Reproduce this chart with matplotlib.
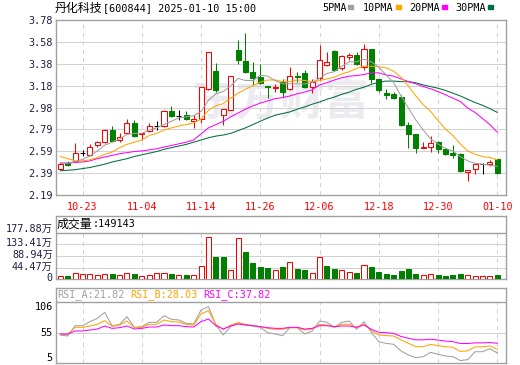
import numpy as np
import pandas as pd
import matplotlib
matplotlib.use("Agg")
import matplotlib.pyplot as plt
import matplotlib.transforms as mtransforms
from matplotlib.patches import Rectangle

W, H = 520, 365
MONO = ["DejaVu Sans Mono", "Noto Sans CJK SC"]
CJK = ["Noto Sans CJK SC", "DejaVu Sans"]
red = "#ff0000"
green = "#008000"
border = "#a0a0a0"
grid = "#d2d2d2"
navy = "#1e1e46"
c_ma5, c_ma10, c_ma20, c_ma30 = "#a0a0a0", "#ffa500", "#ff00ff", "#00703a"
LW = 0.75  # ~1 px

# ---------------- data ----------------
dates = pd.bdate_range("2024-10-18", "2025-01-10")
dates = dates[dates != pd.Timestamp("2025-01-01")]
day = list(dates.strftime("%m-%d"))
date_ticks = ["10-23", "11-04", "11-14", "11-26", "12-06", "12-18", "12-30", "01-10"]

opens = [2.43, 2.48, 2.50, 2.57, 2.55, 2.64, 2.67, 2.78, 2.69, 2.75,
         2.84, 2.74, 2.77, 2.82, 2.82, 2.95, 2.91, 2.92, 2.86, 2.88,
         3.15, 3.32, 2.92, 2.96, 3.51, 3.41, 3.31, 3.26, 3.18, 3.16,
         3.22, 3.15, 3.27, 3.30, 3.17, 3.25, 3.37, 3.50, 3.34, 3.44,
         3.46, 3.35, 3.52, 3.24, 3.12, 3.11, 3.08, 2.83, 2.74, 2.62,
         2.63, 2.67, 2.61, 2.57, 2.56, 2.40, 2.43, 2.47, 2.47, 2.52]
highs = [2.49, 2.50, 2.66, 2.60, 2.65, 2.68, 2.79, 2.82, 2.75, 2.88,
         2.87, 2.75, 2.84, 2.86, 2.96, 3.00, 2.96, 2.95, 2.92, 3.17,
         3.49, 3.39, 2.97, 3.27, 3.60, 3.66, 3.40, 3.38, 3.18, 3.20,
         3.24, 3.35, 3.31, 3.33, 3.24, 3.55, 3.49, 3.51, 3.46, 3.48,
         3.49, 3.56, 3.52, 3.24, 3.15, 3.13, 3.10, 2.85, 2.74, 2.67,
         2.73, 2.68, 2.62, 2.64, 2.57, 2.42, 2.47, 2.48, 2.51, 2.52]
lows = [2.42, 2.45, 2.49, 2.54, 2.54, 2.63, 2.66, 2.67, 2.67, 2.74,
        2.72, 2.69, 2.76, 2.78, 2.81, 2.90, 2.87, 2.87, 2.80, 2.84,
        3.14, 3.13, 2.83, 2.96, 3.38, 3.30, 3.19, 3.20, 3.07, 3.13,
        3.08, 3.14, 3.22, 3.16, 3.12, 3.23, 3.36, 3.32, 3.33, 3.42,
        3.37, 3.33, 3.21, 3.13, 3.06, 3.06, 2.82, 2.62, 2.57, 2.62,
        2.58, 2.57, 2.55, 2.53, 2.40, 2.32, 2.38, 2.38, 2.45, 2.38]
closes = [2.47, 2.46, 2.57, 2.57, 2.63, 2.67, 2.78, 2.68, 2.72, 2.84,
          2.73, 2.75, 2.82, 2.82, 2.95, 2.91, 2.91, 2.88, 2.88, 3.17,
          3.49, 3.14, 2.97, 3.27, 3.42, 3.31, 3.25, 3.21, 3.17, 3.17,
          3.13, 3.27, 3.26, 3.17, 3.22, 3.42, 3.40, 3.33, 3.45, 3.46,
          3.38, 3.52, 3.24, 3.14, 3.10, 3.07, 2.83, 2.74, 2.62, 2.63,
          2.66, 2.61, 2.56, 2.55, 2.41, 2.42, 2.47, 2.47, 2.49, 2.39]
prev_close = 2.44

ma5 = [2.478, 2.48, 2.493, 2.514, 2.545, 2.59, 2.644, 2.67, 2.70, 2.74,
       2.75, 2.75, 2.78, 2.80, 2.83, 2.86, 2.89, 2.90, 2.91, 2.95,
       3.05, 3.11, 3.13, 3.18, 3.25, 3.23, 3.23, 3.28, 3.27, 3.23,
       3.20, 3.20, 3.20, 3.20, 3.21, 3.25, 3.295, 3.31, 3.36, 3.40,
       3.40, 3.423, 3.40, 3.35, 3.28, 3.21, 3.09, 2.98, 2.871, 2.78,
       2.70, 2.653, 2.614, 2.59, 2.54, 2.50, 2.478, 2.47, 2.46, 2.45]
ma10 = [2.54, 2.52, 2.50, 2.50, 2.51, 2.53, 2.56, 2.58, 2.62, 2.65,
        2.67, 2.69, 2.73, 2.75, 2.78, 2.80, 2.817, 2.83, 2.845, 2.88,
        2.96, 3.00, 3.02, 3.07, 3.115, 3.15, 3.185, 3.215, 3.235, 3.235,
        3.22, 3.22, 3.235, 3.23, 3.22, 3.229, 3.245, 3.26, 3.29, 3.31,
        3.34, 3.36, 3.36, 3.356, 3.345, 3.315, 3.26, 3.18, 3.09, 3.01,
        2.95, 2.865, 2.79, 2.73, 2.655, 2.59, 2.56, 2.54, 2.53, 2.51]
ma20 = [2.48, 2.48, 2.485, 2.49, 2.50, 2.52, 2.535, 2.55, 2.565, 2.575,
        2.585, 2.59, 2.60, 2.61, 2.625, 2.64, 2.655, 2.67, 2.69, 2.745,
        2.80, 2.83, 2.86, 2.90, 2.935, 2.97, 3.00, 3.025, 3.045, 3.065,
        3.075, 3.09, 3.11, 3.125, 3.145, 3.19, 3.21, 3.235, 3.255, 3.27,
        3.275, 3.285, 3.30, 3.30, 3.28, 3.27, 3.245, 3.22, 3.20, 3.175,
        3.155, 3.13, 3.10, 3.07, 3.04, 2.98, 2.94, 2.885, 2.83, 2.76]
ma30 = [2.41, 2.415, 2.42, 2.43, 2.44, 2.455, 2.47, 2.49, 2.505, 2.52,
        2.54, 2.555, 2.57, 2.585, 2.605, 2.62, 2.635, 2.65, 2.67, 2.69,
        2.71, 2.725, 2.735, 2.75, 2.775, 2.80, 2.83, 2.86, 2.89, 2.915,
        2.93, 2.945, 2.97, 2.99, 3.015, 3.035, 3.06, 3.08, 3.105, 3.125,
        3.15, 3.17, 3.195, 3.215, 3.225, 3.225, 3.22, 3.22, 3.21, 3.19,
        3.175, 3.16, 3.14, 3.115, 3.09, 3.06, 3.03, 3.005, 2.975, 2.94]

# volume, unit: 10k shares
vols = [12.7, 14.0, 23.0, 20.0, 20.0, 16.5, 21.6, 20.0, 16.5, 25.0,
        20.0, 12.7, 16.5, 23.0, 23.0, 20.0, 16.5, 16.5, 16.5, 51.0,
        160.0, 86.0, 86.0, 36.0, 156.0, 104.0, 62.0, 47.0, 43.0, 34.0,
        47.0, 65.0, 39.0, 36.0, 23.0, 84.0, 51.0, 39.0, 34.0, 27.0,
        24.0, 53.0, 47.0, 28.0, 19.0, 16.5, 32.0, 39.0, 20.0, 16.5,
        19.0, 16.5, 12.7, 16.5, 19.0, 16.5, 11.4, 11.4, 12.7, 14.9143]

rsi_a = [51.4, 49.8, 66.7, 66.7, 73.3, 78.7, 88.6, 66.1, 68.9, 81.4,
         64.0, 65.1, 72.2, 72.2, 83.1, 77.1, 76.0, 70.5, 69.4, 92.4,
         97.8, 67.8, 51.4, 65.1, 71.6, 67.8, 66.1, 64.0, 55.2, 53.0,
         50.3, 63.4, 63.4, 53.0, 58.0, 74.3, 72.2, 64.0, 72.2, 74.3,
         60.7, 73.3, 55.8, 40.5, 37.7, 36.1, 25.2, 18.6, 14.2, 15.9,
         23.0, 19.7, 17.0, 15.9, 9.5, 11.0, 24.0, 24.0, 29.0, 21.82]
rsi_b = [53.0, 52.5, 64.0, 64.0, 66.1, 68.9, 74.9, 65.6, 67.8, 74.3,
         63.4, 64.0, 68.9, 68.9, 76.0, 73.3, 72.7, 68.9, 67.8, 85.9,
         91.4, 68.9, 60.7, 67.8, 71.6, 68.9, 66.7, 65.1, 62.3, 60.7,
         60.7, 63.4, 63.4, 59.6, 61.2, 68.9, 67.8, 64.0, 68.9, 68.9,
         64.0, 69.4, 58.5, 51.4, 50.3, 49.8, 43.2, 37.7, 32.3, 32.3,
         36.1, 33.9, 32.3, 31.2, 24.5, 25.5, 32.0, 32.0, 33.5, 28.03]
rsi_c = [53.0, 53.0, 58.0, 58.0, 59.6, 61.2, 66.1, 62.3, 63.4, 66.1,
         61.2, 62.3, 64.5, 64.5, 67.8, 66.7, 66.7, 65.1, 64.5, 73.3,
         77.6, 66.7, 61.2, 66.1, 69.4, 67.8, 66.7, 65.1, 63.4, 62.3,
         62.3, 64.0, 64.0, 61.2, 62.3, 66.7, 66.7, 65.1, 66.1, 66.1,
         64.0, 67.8, 60.7, 55.8, 55.2, 54.1, 49.0, 46.0, 43.5, 43.5,
         44.5, 43.0, 41.5, 40.5, 37.5, 37.5, 38.5, 38.5, 39.0, 37.82]

price_ticks = ["3.78", "3.58", "3.38", "3.18", "2.98", "2.79", "2.59", "2.39", "2.19"]
vol_ticks = [0, 44.47, 88.94, 133.41, 177.88]
rsi_ticks = [5, 55, 106]

# ---------------- figure ----------------
n = len(closes)
x = np.arange(n)
tick_pos = [day.index(d) for d in date_ticks]
xlo, xhi = -0.65, 60.17
bw = 0.68

fig = plt.figure(figsize=(W / 100, H / 100), dpi=100)
fig.set_facecolor("white")


def px_axes(x0, y0, x1, y1):
    return fig.add_axes([x0 / W, 1 - y1 / H, (x1 - x0) / W, (y1 - y0) / H])


def put(px, py, s, size=7.3, color="black", family=MONO, **kw):
    fig.text(px / W, 1 - py / H, s, fontsize=size, color=color, family=family,
             va="center", ha="left", **kw)


def frame(ax):
    for sp in ax.spines.values():
        sp.set_color(border)
        sp.set_linewidth(1)
    ax.tick_params(length=0)
    ax.set_xlim(xlo, xhi)


# ---- price panel ----
ax1 = px_axes(55.5, 20, 506, 195)
frame(ax1)
plo, phi = 2.19, 3.78
ax1.set_ylim(plo, phi)
pgrid = np.linspace(phi, plo, len(price_ticks))
for yv in pgrid[1:-1]:
    ax1.axhline(yv, color=grid, lw=LW, zorder=1)
for p in tick_pos:
    ax1.axvline(p, color=grid, lw=LW, ls=(0, (4, 4)), zorder=1)
ax1.set_yticks(pgrid)
ax1.set_yticklabels(price_ticks, family=MONO, fontsize=7.3, color=navy)
ax1.set_xticks(tick_pos)
ax1.set_xticklabels(date_ticks, family=MONO, fontsize=7.3, color=red)
ax1.tick_params(axis="y", pad=2)
ax1.tick_params(axis="x", pad=5)

ax1.text(0.50, 0.53, "东方财富", transform=ax1.transAxes, fontsize=32,
         family=CJK, fontweight="bold", color="#ebebf0", ha="center",
         va="center", zorder=0)

for i in range(n):
    o, h, l, c = opens[i], highs[i], lows[i], closes[i]
    col = red if c > o else (green if c < o else "black")
    ax1.vlines(i, l, h, color=col, lw=LW, zorder=3)
    if c == o:
        ax1.hlines(c, i - bw / 2, i + bw / 2, color=col, lw=LW, zorder=4)
    else:
        face = "white" if c > o else col
        ax1.add_patch(Rectangle((i - bw / 2, min(o, c)), bw, abs(c - o),
                                facecolor=face, edgecolor=col, lw=LW, zorder=4))

for ser, col in [(ma30, c_ma30), (ma20, c_ma20), (ma10, c_ma10), (ma5, c_ma5)]:
    ax1.plot(x, ser, color=col, lw=LW, zorder=5)

# ---- volume panel ----
ax2 = px_axes(55.5, 215.5, 506, 279.3)
frame(ax2)
vtop = vol_ticks[-1]
vscale = vtop / (279.3 - 232.7)
ax2.set_ylim(0, vtop + (232.7 - 215.5) * vscale)
ax2.axhline(vtop, color=border, lw=1, zorder=2)
for yv in vol_ticks[1:-1]:
    ax2.axhline(yv, color=grid, lw=LW, zorder=1)
ax2.vlines(tick_pos, 0, vtop, color=grid, lw=LW, ls=(0, (4, 4)), zorder=1)
ax2.set_xticks([])
ax2.set_yticks(vol_ticks)
ax2.set_yticklabels(["0"] + [f"{v:.2f}万" for v in vol_ticks[1:]],
                    family=MONO, fontsize=7.3, color=navy)
ax2.tick_params(axis="y", pad=2)
shift = mtransforms.ScaledTranslation(0, 0.02, fig.dpi_scale_trans)
for k, lab in enumerate(ax2.get_yticklabels()):
    extra = mtransforms.ScaledTranslation(0, 0.025, fig.dpi_scale_trans) if k == len(vol_ticks) - 1 else mtransforms.IdentityTransform()
    lab.set_transform(lab.get_transform() + shift + extra)

last = prev_close
for i in range(n):
    up = closes[i] >= last
    last = closes[i]
    col = red if up else green
    ax2.add_patch(Rectangle((i - bw / 2, 0), bw, vols[i],
                            facecolor="white" if up else col, edgecolor=col,
                            lw=LW, zorder=3))

# ---- RSI panel ----
ax3 = px_axes(55.5, 288.3, 506, 363.3)
frame(ax3)
rlo, rhi = rsi_ticks[0], rsi_ticks[-1]
rscale = (rhi - rlo) / (363.3 - 301.7)
ax3.set_ylim(rlo, rhi + (301.7 - 288.3) * rscale)
ax3.axhline(rhi, color=border, lw=1, zorder=2)
rmid = (rlo + rhi) / 2
ax3.axhline(rmid, color=grid, lw=LW, zorder=1)
ax3.vlines(tick_pos, rlo, rhi, color=grid, lw=LW, ls=(0, (4, 4)), zorder=1)
ax3.set_xticks([])
ax3.set_yticks([rlo, rmid, rhi])
ax3.set_yticklabels([str(v) for v in rsi_ticks], family=MONO, fontsize=7.3,
                    color="black")
ax3.tick_params(axis="y", pad=2)
labs = ax3.get_yticklabels()
labs[0].set_va("bottom")
labs[2].set_va("top")
for ser, col in [(rsi_a, c_ma5), (rsi_b, c_ma10), (rsi_c, c_ma20)]:
    ax3.plot(x, ser, color=col, lw=LW, zorder=4)

# ---- header texts ----
put(55, 8, "丹化科技", size=8.6, family=CJK)
put(103, 8, "[600844] 2025-01-10 15:00")
legend = [("5PMA", 322, 348, c_ma5), ("10PMA", 363, 396, c_ma10),
          ("20PMA", 409, 442, c_ma20), ("30PMA", 455, 488, c_ma30)]
for name, tx, rx, col in legend:
    put(tx, 8, name)
    fig.add_artist(Rectangle((rx / W, 1 - 9 / H), 5 / W, 3.5 / H,
                             transform=fig.transFigure, color=col))

put(57, 224, "成交量", size=8.6, family=CJK)
put(93, 224, f":{vols[-1] * 1e4:.0f}")

put(57, 295, f"RSI_A:{rsi_a[-1]:.2f}", color=c_ma5)
put(130, 295, f"RSI_B:{rsi_b[-1]:.2f}", color=c_ma10)
put(203, 295, f"RSI_C:{rsi_c[-1]:.2f}", color=c_ma20)

fig.savefig("out.png", dpi=100)
